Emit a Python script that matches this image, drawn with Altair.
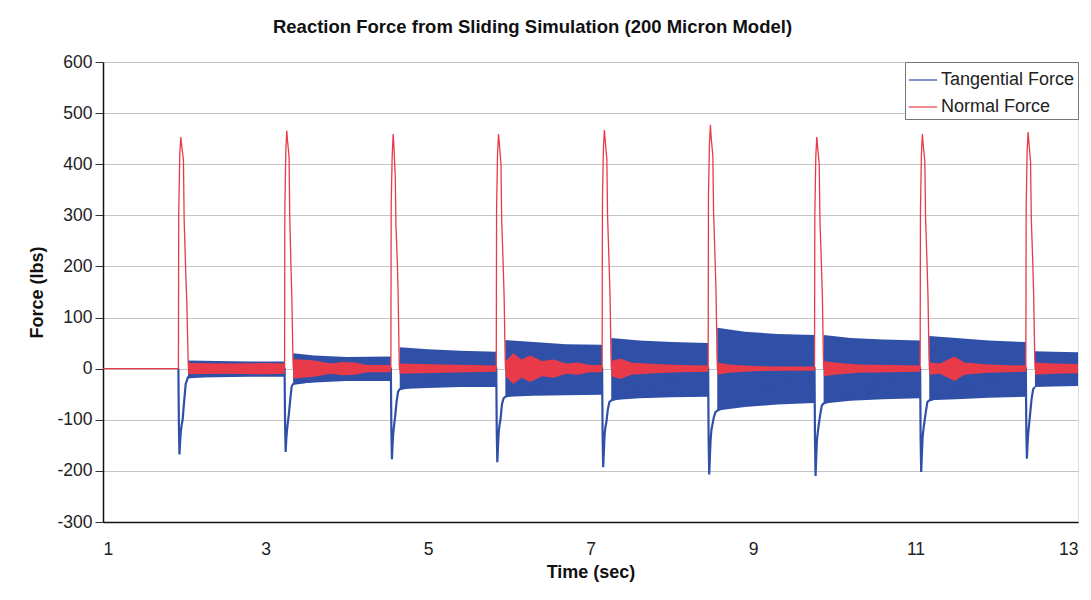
import altair as alt
import pandas as pd

BLUE = "#3050A8"
RED = "#E83A48"

# ---- Normal force (red): impact spikes ----
normal_t = [1.0,
    1.928, 1.932, 1.945, 1.958, 1.966, 1.990, 1.999, 2.020, 2.032, 2.048, 2.052,
    3.235, 3.238, 3.250, 3.262, 3.270, 3.290, 3.298, 3.315, 3.325, 3.338, 3.342,
    4.543, 4.547, 4.559, 4.571, 4.579, 4.597, 4.606, 4.622, 4.632, 4.645, 4.649,
    5.840, 5.844, 5.856, 5.868, 5.876, 5.898, 5.907, 5.926, 5.937, 5.950, 5.954,
    7.143, 7.147, 7.159, 7.171, 7.179, 7.201, 7.210, 7.229, 7.240, 7.253, 7.257,
    8.448, 8.452, 8.464, 8.476, 8.484, 8.506, 8.515, 8.534, 8.545, 8.558, 8.562,
    9.757, 9.761, 9.773, 9.785, 9.793, 9.815, 9.824, 9.843, 9.854, 9.867, 9.871,
    11.057, 11.061, 11.073, 11.085, 11.093, 11.115, 11.124, 11.143, 11.154, 11.167, 11.171,
    12.358, 12.362, 12.374, 12.386, 12.394, 12.416, 12.425, 12.444, 12.455, 12.468, 12.472,
    13.0]
normal_v = [0,
    0, 300, 420, 453, 440, 408, 290, 180, 128, 15, 0,
    0, 310, 425, 466, 448, 415, 300, 190, 135, 18, 0,
    0, 320, 415, 459, 440, 376, 278, 212, 148, 20, 0,
    0, 310, 420, 459, 445, 400, 290, 200, 140, 18, 0,
    0, 330, 430, 467, 450, 410, 300, 205, 145, 20, 0,
    0, 340, 440, 477, 455, 415, 305, 210, 150, 20, 0,
    0, 300, 415, 453, 438, 400, 290, 200, 140, 18, 0,
    0, 310, 420, 459, 442, 405, 295, 200, 140, 18, 0,
    0, 315, 425, 463, 447, 405, 295, 205, 140, 18, 0,
    0]

# ---- Tangential force (blue): dips at each impact ----
tang_t = [
    1.928, 1.934, 1.941, 1.950, 1.958, 1.968, 1.980, 1.998, 2.018, 2.046,
    3.235, 3.241, 3.248, 3.257, 3.265, 3.275, 3.287, 3.305, 3.322, 3.340,
    4.543, 4.549, 4.556, 4.565, 4.573, 4.583, 4.595, 4.613, 4.632, 4.652,
    5.840, 5.846, 5.853, 5.862, 5.870, 5.880, 5.892, 5.910, 5.930, 5.952,
    7.143, 7.149, 7.156, 7.165, 7.173, 7.183, 7.195, 7.213, 7.233, 7.255,
    8.448, 8.454, 8.461, 8.470, 8.478, 8.488, 8.500, 8.518, 8.538, 8.560,
    9.757, 9.763, 9.770, 9.779, 9.787, 9.797, 9.809, 9.827, 9.847, 9.869,
    11.057, 11.063, 11.070, 11.079, 11.087, 11.097, 11.109, 11.127, 11.147, 11.169,
    12.358, 12.364, 12.371, 12.380, 12.388, 12.398, 12.410, 12.428, 12.448, 12.470]
tang_v = [
    0, -110, -168, -140, -122, -110, -100, -65, -30, -17,
    0, -110, -163, -135, -120, -105, -90, -60, -35, -30,
    0, -120, -177, -145, -125, -110, -95, -65, -45, -40,
    0, -120, -183, -150, -125, -110, -100, -70, -58, -55,
    0, -130, -193, -160, -130, -115, -105, -80, -65, -62,
    0, -140, -207, -170, -140, -120, -110, -95, -85, -82,
    0, -140, -210, -170, -140, -125, -110, -90, -72, -68,
    0, -135, -202, -165, -135, -120, -105, -85, -65, -62,
    0, -120, -176, -145, -125, -110, -90, -60, -40, -36]

# ---- Oscillation envelopes between impacts ----
tband_seg = [1]*4 + [2]*4 + [3]*4 + [4]*4 + [5]*4 + [6]*4 + [7]*4 + [8]*4 + [9]*3
tband_t = [2.046, 2.4, 2.8, 3.235,
           3.340, 3.6, 4.0, 4.543,
           4.652, 5.0, 5.4, 5.840,
           5.952, 6.3, 6.7, 7.143,
           7.255, 7.6, 8.0, 8.448,
           8.560, 8.9, 9.3, 9.757,
           9.869, 10.2, 10.6, 11.057,
           11.169, 11.5, 11.9, 12.358,
           12.470, 12.7, 13.0]
tband_lo = [-18, -17, -16, -16,
            -30, -27, -24, -24,
            -40, -38, -36, -36,
            -55, -53, -52, -51,
            -62, -58, -56, -55,
            -82, -75, -70, -67,
            -68, -63, -60, -58,
            -62, -60, -57, -55,
            -36, -35, -34]
tband_hi = [16, 15, 14, 14,
            30, 26, 23, 24,
            42, 38, 35, 33,
            56, 52, 48, 47,
            60, 55, 52, 50,
            80, 72, 68, 66,
            66, 60, 57, 55,
            64, 60, 55, 52,
            34, 33, 32]

nband_seg = [1]*4 + [2]*7 + [3]*3 + [4]*10 + [5]*6 + [6]*5 + [7]*5 + [8]*6 + [9]*3
nband_t = [2.048, 2.5, 3.0, 3.235,
           3.342, 3.6, 3.8, 3.95, 4.1, 4.25, 4.543,
           4.649, 5.2, 5.840,
           5.954, 6.05, 6.15, 6.26, 6.4, 6.55, 6.7, 6.84, 7.0, 7.143,
           7.257, 7.37, 7.5, 7.8, 8.1, 8.448,
           8.562, 8.7, 9.0, 9.4, 9.757,
           9.871, 10.0, 10.3, 10.7, 11.057,
           11.171, 11.3, 11.48, 11.6, 11.9, 12.358,
           12.472, 12.7, 13.0]
nband_amp = [11, 10, 11, 10,
             19, 16, 10, 13, 12, 7, 7,
             10, 8, 6,
             15, 30, 18, 26, 15, 18, 10, 12, 7, 7,
             15, 20, 12, 9, 7, 6,
             12, 8, 5, 4, 4,
             15, 12, 8, 7, 6,
             12, 10, 24, 12, 8, 6,
             12, 10, 9]

tang_line = pd.DataFrame({"t": tang_t, "v": tang_v, "series": "Tangential Force"})
norm_line = pd.DataFrame({"t": normal_t, "v": normal_v, "series": "Normal Force"})
tband = pd.DataFrame({"seg": tband_seg, "t": tband_t, "lo": tband_lo, "hi": tband_hi})
nband = pd.DataFrame({"seg": nband_seg, "t": nband_t,
                      "lo": [-a for a in nband_amp], "hi": nband_amp})

FONT = "Liberation Sans"
xscale = alt.Scale(domain=[1, 13], nice=False, zero=False)
yscale = alt.Scale(domain=[-300, 600], nice=False, zero=False)

xaxis = alt.Axis(values=[1, 3, 5, 7, 9, 11, 13], title="Time (sec)", grid=False,
                 ticks=False, labelPadding=18, labelFontSize=17.5, labelFont=FONT,
                 labelColor="#222", titleFont=FONT, titleFontSize=18,
                 titleFontWeight="bold", titleColor="#111", titlePadding=6,
                 domainColor="#111", domainWidth=1.5)
yaxis = alt.Axis(values=list(range(-300, 601, 100)), title="Force (lbs)", grid=True,
                 labelExpr="'' + datum.value",
                 gridColor="#c4c4c4", gridWidth=1, tickSize=8, tickColor="#333",
                 labelPadding=3, labelFontSize=17.5, labelFont=FONT, labelColor="#222",
                 titleFont=FONT, titleFontSize=18, titleFontWeight="bold",
                 titleColor="#111", titlePadding=10, domainColor="#111", domainWidth=1.5)

color = alt.Color("series:N",
                  scale=alt.Scale(domain=["Tangential Force", "Normal Force"],
                                  range=[BLUE, RED]),
                  legend=alt.Legend(title=None, orient="top-right", offset=0,
                                    symbolType="stroke", symbolSize=800,
                                    symbolStrokeWidth=1.2, labelFont=FONT,
                                    labelFontSize=18, labelColor="#222",
                                    fillColor="white", strokeColor="#777",
                                    padding=3, rowPadding=3, labelOffset=3))

tarea = alt.Chart(tband).mark_area(color=BLUE, opacity=1, clip=True).encode(
    x=alt.X("t:Q", scale=xscale, axis=xaxis),
    y=alt.Y("lo:Q", scale=yscale, axis=yaxis), y2="hi:Q", detail="seg:N")
tl = alt.Chart(tang_line).mark_line(strokeWidth=2.2, clip=True).encode(
    x=alt.X("t:Q", scale=xscale, axis=xaxis),
    y=alt.Y("v:Q", scale=yscale, axis=yaxis), color=color)
narea = alt.Chart(nband).mark_area(color=RED, opacity=1, clip=True).encode(
    x=alt.X("t:Q", scale=xscale, axis=xaxis),
    y=alt.Y("lo:Q", scale=yscale, axis=yaxis), y2="hi:Q", detail="seg:N")
nl = alt.Chart(norm_line).mark_line(strokeWidth=1.3, clip=True).encode(
    x=alt.X("t:Q", scale=xscale, axis=xaxis),
    y=alt.Y("v:Q", scale=yscale, axis=yaxis), color=color)

chart = alt.layer(tarea, tl, narea, nl).properties(
    width=975, height=460,
    autosize=alt.AutoSizeParams(type="none"),
    padding={"left": 103, "top": 62, "right": 13, "bottom": 78},
    title=alt.Title("Reaction Force from Sliding Simulation (200 Micron Model)",
                    font=FONT, fontSize=18.5, fontWeight="bold", color="#111",
                    anchor="middle", offset=17, dx=-58),
).configure_view(stroke="#111", strokeWidth=1.5).configure(background="white")

chart.save("out.html", embed_options={"renderer": "svg", "actions": False})
